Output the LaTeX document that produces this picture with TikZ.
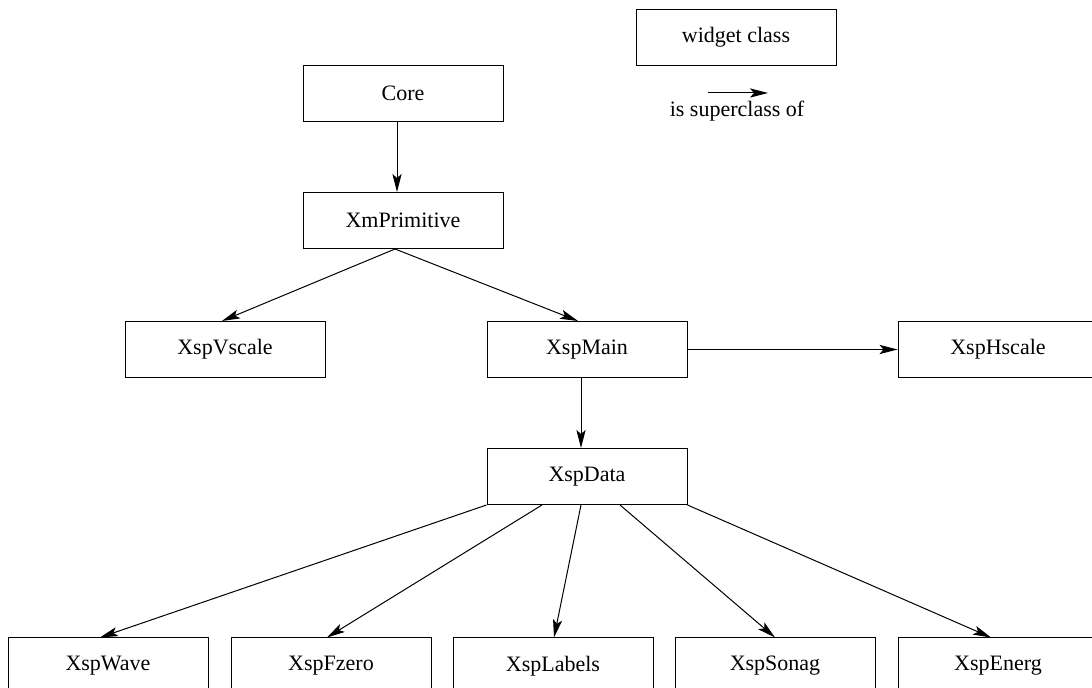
\documentclass[tikz,border=0pt]{standalone}
\usepackage{fontspec}
\setmainfont{Liberation Serif}
\usetikzlibrary{arrows.meta}
\begin{document}
\begin{tikzpicture}[x=0.5pt,y=-0.5pt,
  cls/.style={draw,rectangle,line width=0.5pt,inner sep=0pt,minimum width=100pt,minimum height=28pt,font=\fontsize{11}{13}\selectfont},
  sup/.style={-{Stealth[length=9pt,width=4.6pt,inset=2pt]},line width=0.5pt},
  lbl/.style={inner sep=0pt,font=\fontsize{11}{13}\selectfont}]
\begin{scope}
\clip (0,0) rectangle (1092,688);
\node[cls] (legend) at (736,37.5) {widget class};
\coordinate (la) at (708,93);
\coordinate (lb) at (768,93);
\draw[sup] (la) -- (lb);
\node[lbl] (legtext) at (737,111) {is superclass of};

\node[cls] (core) at (403,93.5) {Core};
\node[cls] (xmp) at (403,220.5) {XmPrimitive};
\node[cls] (vscale) at (225,349.5) {XspVscale};
\node[cls] (main) at (587,349.5) {XspMain};
\node[cls] (hscale) at (998,349.5) {XspHscale};
\node[cls] (data) at (587,476.5) {XspData};
\node[cls] (wave) at (108,666) {XspWave};
\node[cls] (fzero) at (331,666) {XspFzero};
\node[cls] (labels) at (553,666) {XspLabels};
\node[cls] (sonag) at (775,666) {XspSonag};
\node[cls] (energ) at (998,666) {XspEnerg};

\draw[sup] ([xshift=-3pt]core.south) -- ([xshift=-3pt]xmp.north);
\draw[sup] ([xshift=-4pt]xmp.south) -- ([xshift=-1.5pt]vscale.north);
\draw[sup] ([xshift=-4pt]xmp.south) -- ([xshift=-4.5pt]main.north);
\draw[sup] (main.east) -- (hscale.west);
\draw[sup] ([xshift=-3pt]main.south) -- ([xshift=-3pt]data.north);
\draw[sup] (data.south west) -- ([xshift=-4pt]wave.north);
\draw[sup] ([xshift=-22.5pt]data.south) -- ([xshift=-2pt]fzero.north);
\draw[sup] ([xshift=-3pt]data.south) -- ([xshift=0.5pt]labels.north);
\draw[sup] ([xshift=16.5pt]data.south) -- (sonag.north);
\draw[sup] (data.south east) -- ([xshift=-3.5pt]energ.north);
\end{scope}
\pgfresetboundingbox
\path[use as bounding box] (0,0) rectangle (1092,688);
\end{tikzpicture}
\end{document}
